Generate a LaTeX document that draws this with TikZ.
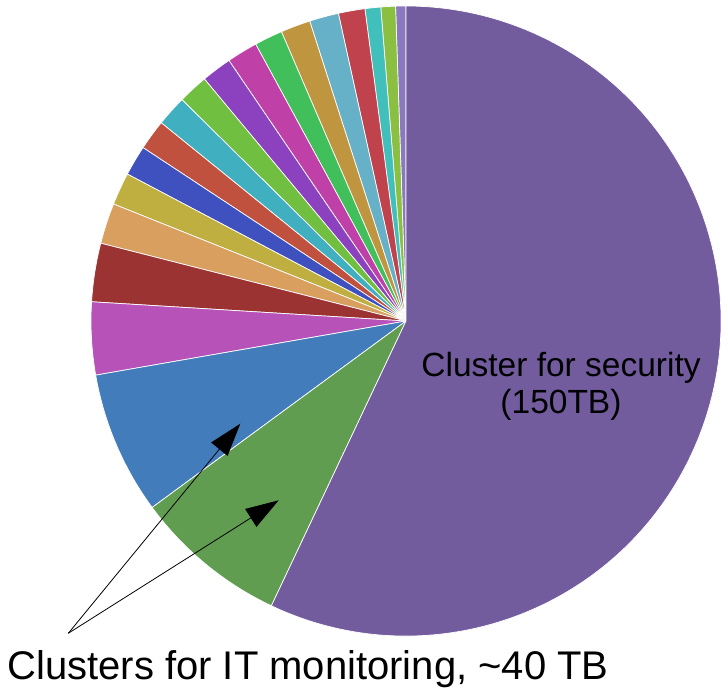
\documentclass[tikz,border=0pt]{standalone}
\usepackage{fontspec}
\setmainfont{Liberation Sans}
\usetikzlibrary{arrows.meta}

\definecolor{cSec}{HTML}{725C9E}
\definecolor{cGreen}{HTML}{619D50}
\definecolor{cBlue}{HTML}{427CBA}
\definecolor{cPink}{HTML}{B752B8}
\definecolor{cBrick}{HTML}{9A3332}
\definecolor{cTan}{HTML}{D99F5F}
\definecolor{cOlive}{HTML}{BFAF40}
\definecolor{cNavy}{HTML}{3F51BF}
\definecolor{cRust}{HTML}{C0513F}
\definecolor{cCyan}{HTML}{40AFBF}
\definecolor{cLime}{HTML}{70BF41}
\definecolor{cViolet}{HTML}{8C41BF}
\definecolor{cMagenta}{HTML}{BF41A8}
\definecolor{cEmerald}{HTML}{41BF5B}
\definecolor{cGold}{HTML}{BF963F}
\definecolor{cSky}{HTML}{66B0C8}
\definecolor{cRed}{HTML}{BF424C}
\definecolor{cTeal}{HTML}{41BFBA}
\definecolor{cYellowgreen}{HTML}{8ABF41}
\definecolor{cLavender}{HTML}{8A79BF}

\begin{document}
\begin{tikzpicture}[x=1pt,y=1pt]
    \useasboundingbox (0,0) rectangle (721,691);
    \coordinate (ctr) at (406,370);
    \foreach \a/\b/\c in {90/91.9/cLavender, 91.9/94.6/cYellowgreen, 94.6/97.5/cTeal,
        97.5/102.4/cRed, 102.4/107.8/cSky, 107.8/113.3/cGold, 113.3/118.5/cEmerald,
        118.5/124.2/cMagenta, 124.2/129.8/cViolet, 129.8/135.35/cLime, 135.35/141/cCyan,
        141/146.6/cRust, 146.6/152.2/cNavy, 152.2/158.2/cOlive, 158.2/165.7/cTan,
        165.7/176.5/cBrick, 176.5/189.9/cPink, 189.9/216.3/cBlue, 216.3/244.7/cGreen,
        244.7/450/cSec}
        \filldraw[fill=\c, draw=white, line width=0.7pt] (ctr) -- ++(\a:315)
            arc[start angle=\a, end angle=\b, radius=315] -- cycle;
    \node[align=center, font=\fontsize{33.5}{37}\selectfont] (sec) at (561,305)
        {Cluster for security\\(150TB)};
    \node[anchor=base, font=\fontsize{40}{48}\selectfont] (itlabel) at (308,11)
        {Clusters for IT monitoring, \char`\~40 TB};
    \coordinate (fork) at (68.3,57.7);
    \coordinate (tipblue) at (240.3,267.3);
    \coordinate (tipgreen) at (278.7,190.7);
    \draw[-{Triangle[length=33pt,width=21pt]}, line width=0.8pt] (fork) -- (tipblue);
    \draw[-{Triangle[length=33pt,width=21pt]}, line width=0.8pt] (fork) -- (tipgreen);
\end{tikzpicture}
\end{document}
